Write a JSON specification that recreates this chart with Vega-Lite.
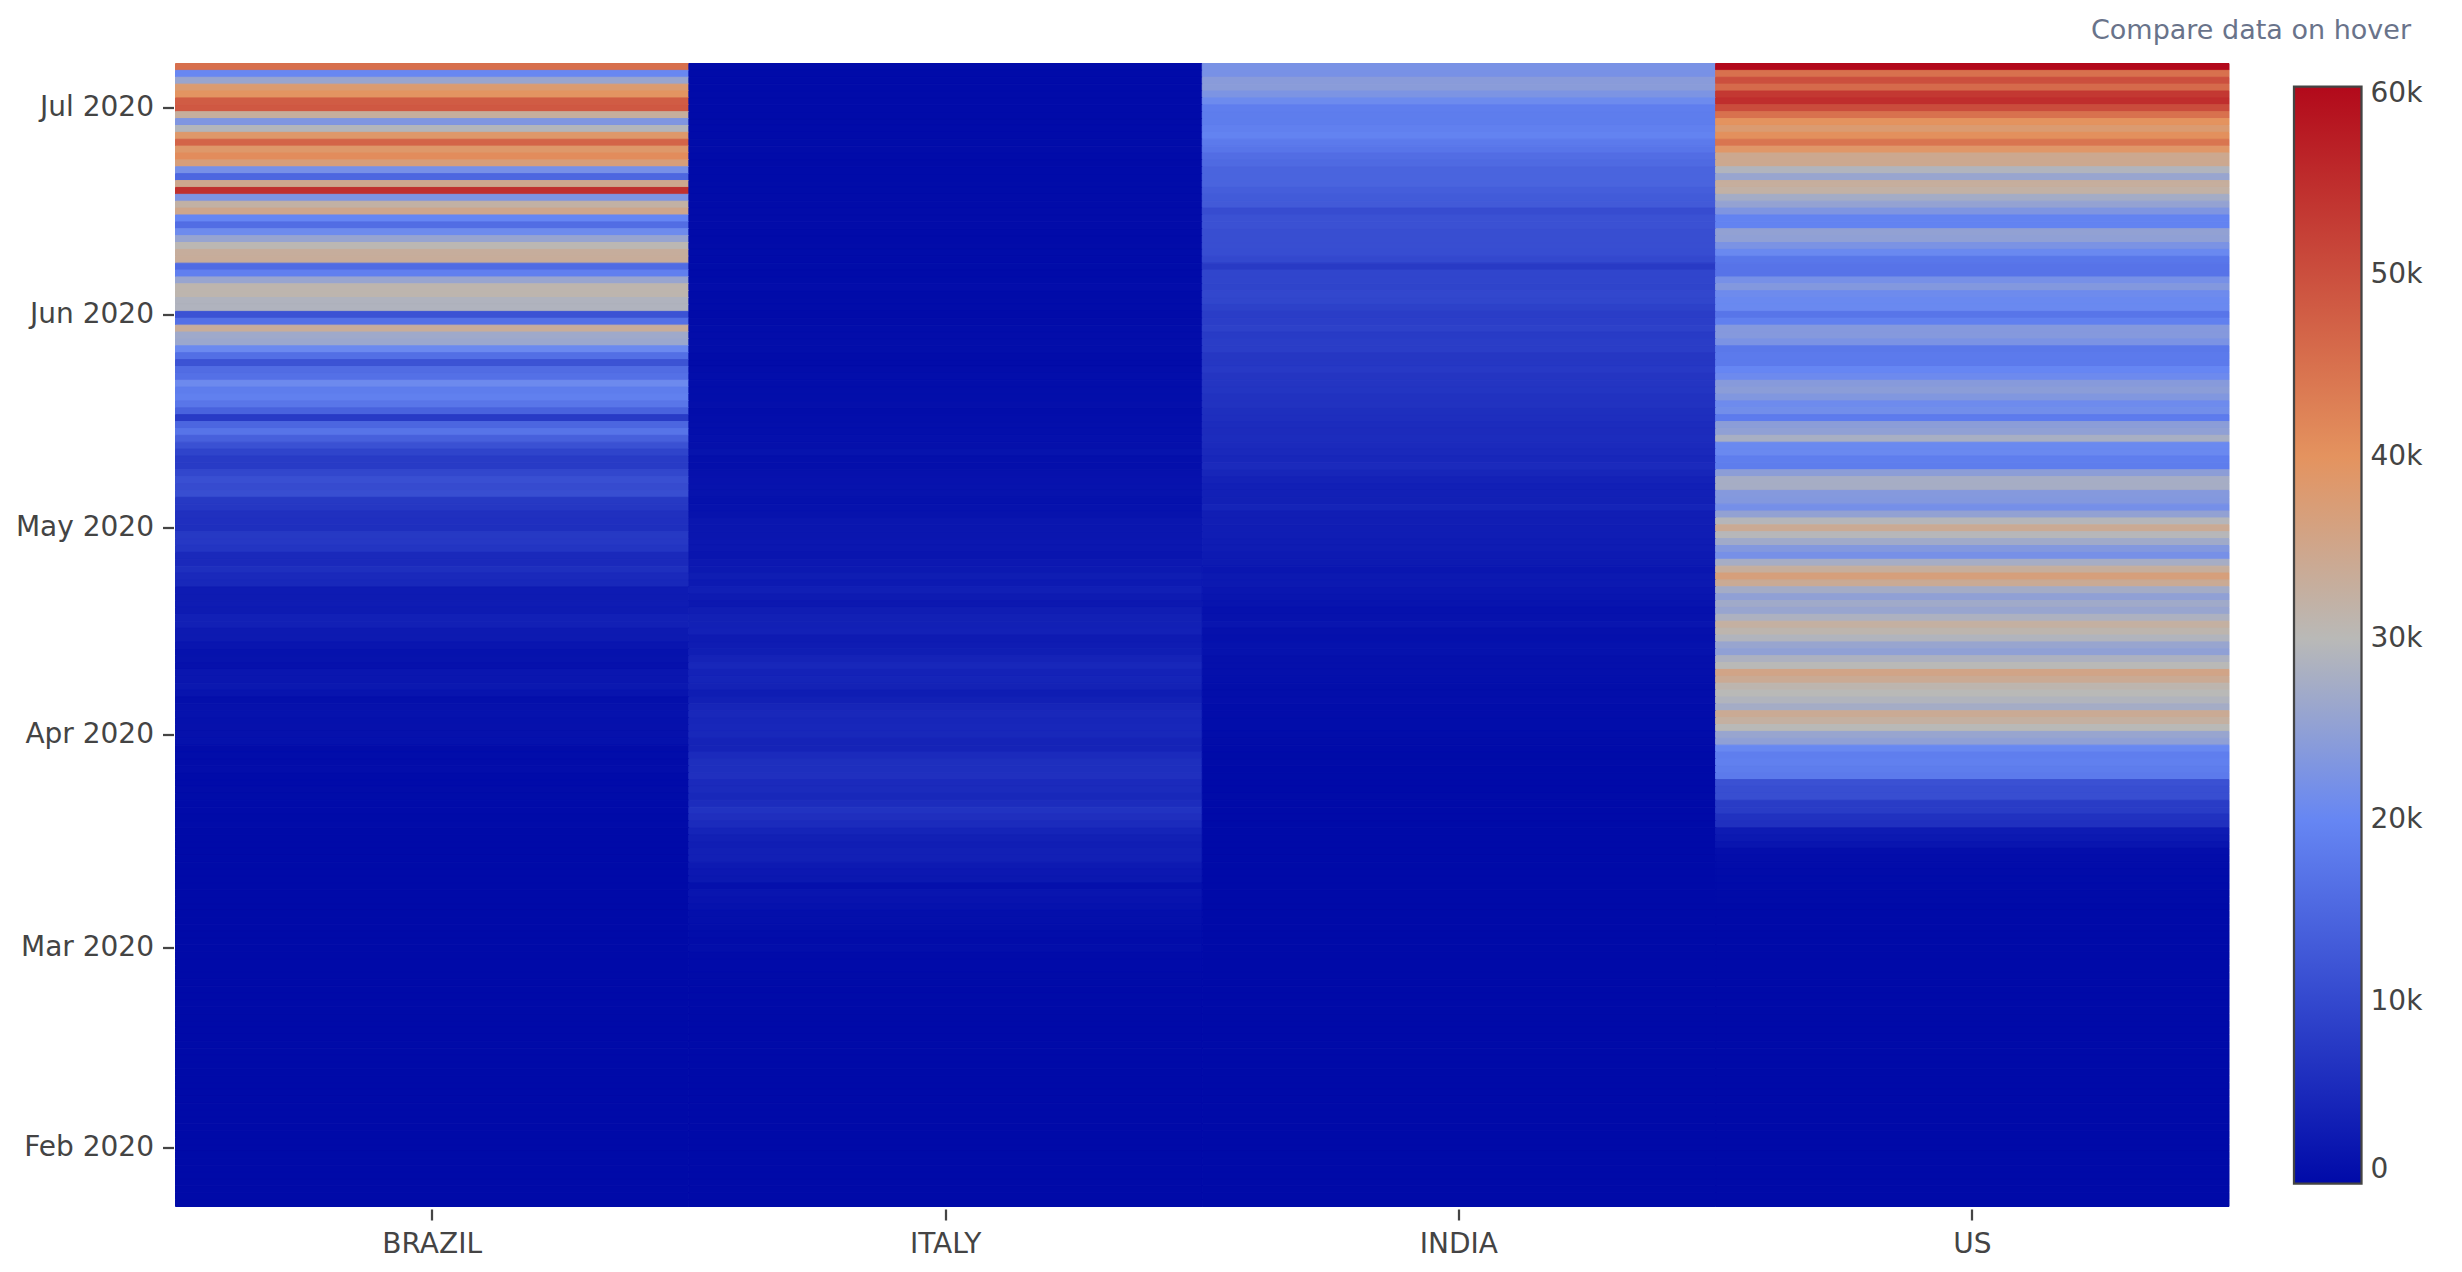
{"$schema":"https://vega.github.io/schema/vega-lite/v6.json","width":2053.5,"height":1143,"autosize":{"type":"none"},"padding":{"left":175.5,"top":63.5,"right":233,"bottom":65.5},"background":"#ffffff","view":{"stroke":null},
"title":{"text":"Compare data on hover","anchor":"end","frame":"group","dx":182,"offset":18,"fontSize":27,"fontWeight":"normal","font":"DejaVu Sans","color":"#69738a"},
"data":{"values":[
{"date":"2020-07-07","country":"BRAZIL","cases":45300},{"date":"2020-07-07","country":"ITALY","cases":193},{"date":"2020-07-07","country":"INDIA","cases":22300},{"date":"2020-07-07","country":"US","cases":60400},
{"date":"2020-07-06","country":"BRAZIL","cases":20200},{"date":"2020-07-06","country":"ITALY","cases":208},{"date":"2020-07-06","country":"INDIA","cases":22200},{"date":"2020-07-06","country":"US","cases":45000},
{"date":"2020-07-05","country":"BRAZIL","cases":26100},{"date":"2020-07-05","country":"ITALY","cases":192},{"date":"2020-07-05","country":"INDIA","cases":24200},{"date":"2020-07-05","country":"US","cases":50000},
{"date":"2020-07-04","country":"BRAZIL","cases":37900},{"date":"2020-07-04","country":"ITALY","cases":235},{"date":"2020-07-04","country":"INDIA","cases":24300},{"date":"2020-07-04","country":"US","cases":46000},
{"date":"2020-07-03","country":"BRAZIL","cases":39800},{"date":"2020-07-03","country":"ITALY","cases":223},{"date":"2020-07-03","country":"INDIA","cases":22700},{"date":"2020-07-03","country":"US","cases":53500},
{"date":"2020-07-02","country":"BRAZIL","cases":48100},{"date":"2020-07-02","country":"ITALY","cases":201},{"date":"2020-07-02","country":"INDIA","cases":20900},{"date":"2020-07-02","country":"US","cases":55000},
{"date":"2020-07-01","country":"BRAZIL","cases":48700},{"date":"2020-07-01","country":"ITALY","cases":182},{"date":"2020-07-01","country":"INDIA","cases":18700},{"date":"2020-07-01","country":"US","cases":50500},
{"date":"2020-06-30","country":"BRAZIL","cases":33000},{"date":"2020-06-30","country":"ITALY","cases":142},{"date":"2020-06-30","country":"INDIA","cases":18500},{"date":"2020-06-30","country":"US","cases":45000},
{"date":"2020-06-29","country":"BRAZIL","cases":23000},{"date":"2020-06-29","country":"ITALY","cases":126},{"date":"2020-06-29","country":"INDIA","cases":18500},{"date":"2020-06-29","country":"US","cases":40000},
{"date":"2020-06-28","country":"BRAZIL","cases":29300},{"date":"2020-06-28","country":"ITALY","cases":174},{"date":"2020-06-28","country":"INDIA","cases":19000},{"date":"2020-06-28","country":"US","cases":38000},
{"date":"2020-06-27","country":"BRAZIL","cases":38700},{"date":"2020-06-27","country":"ITALY","cases":175},{"date":"2020-06-27","country":"INDIA","cases":19500},{"date":"2020-06-27","country":"US","cases":40500},
{"date":"2020-06-26","country":"BRAZIL","cases":46900},{"date":"2020-06-26","country":"ITALY","cases":259},{"date":"2020-06-26","country":"INDIA","cases":18000},{"date":"2020-06-26","country":"US","cases":44500},
{"date":"2020-06-25","country":"BRAZIL","cases":38700},{"date":"2020-06-25","country":"ITALY","cases":296},{"date":"2020-06-25","country":"INDIA","cases":17300},{"date":"2020-06-25","country":"US","cases":39000},
{"date":"2020-06-24","country":"BRAZIL","cases":41000},{"date":"2020-06-24","country":"ITALY","cases":190},{"date":"2020-06-24","country":"INDIA","cases":16000},{"date":"2020-06-24","country":"US","cases":34500},
{"date":"2020-06-23","country":"BRAZIL","cases":37000},{"date":"2020-06-23","country":"ITALY","cases":122},{"date":"2020-06-23","country":"INDIA","cases":15500},{"date":"2020-06-23","country":"US","cases":34500},
{"date":"2020-06-22","country":"BRAZIL","cases":22000},{"date":"2020-06-22","country":"ITALY","cases":224},{"date":"2020-06-22","country":"INDIA","cases":14500},{"date":"2020-06-22","country":"US","cases":29000},
{"date":"2020-06-21","country":"BRAZIL","cases":15000},{"date":"2020-06-21","country":"ITALY","cases":218},{"date":"2020-06-21","country":"INDIA","cases":14500},{"date":"2020-06-21","country":"US","cases":26000},
{"date":"2020-06-20","country":"BRAZIL","cases":34700},{"date":"2020-06-20","country":"ITALY","cases":262},{"date":"2020-06-20","country":"INDIA","cases":14500},{"date":"2020-06-20","country":"US","cases":33000},
{"date":"2020-06-19","country":"BRAZIL","cases":54700},{"date":"2020-06-19","country":"ITALY","cases":251},{"date":"2020-06-19","country":"INDIA","cases":13500},{"date":"2020-06-19","country":"US","cases":32000},
{"date":"2020-06-18","country":"BRAZIL","cases":22800},{"date":"2020-06-18","country":"ITALY","cases":333},{"date":"2020-06-18","country":"INDIA","cases":13000},{"date":"2020-06-18","country":"US","cases":27500},
{"date":"2020-06-17","country":"BRAZIL","cases":32200},{"date":"2020-06-17","country":"ITALY","cases":210},{"date":"2020-06-17","country":"INDIA","cases":12900},{"date":"2020-06-17","country":"US","cases":25500},
{"date":"2020-06-16","country":"BRAZIL","cases":34900},{"date":"2020-06-16","country":"ITALY","cases":303},{"date":"2020-06-16","country":"INDIA","cases":10700},{"date":"2020-06-16","country":"US","cases":23000},
{"date":"2020-06-15","country":"BRAZIL","cases":20000},{"date":"2020-06-15","country":"ITALY","cases":338},{"date":"2020-06-15","country":"INDIA","cases":11500},{"date":"2020-06-15","country":"US","cases":19500},
{"date":"2020-06-14","country":"BRAZIL","cases":16000},{"date":"2020-06-14","country":"ITALY","cases":346},{"date":"2020-06-14","country":"INDIA","cases":11500},{"date":"2020-06-14","country":"US","cases":19500},
{"date":"2020-06-13","country":"BRAZIL","cases":21000},{"date":"2020-06-13","country":"ITALY","cases":163},{"date":"2020-06-13","country":"INDIA","cases":11000},{"date":"2020-06-13","country":"US","cases":25300},
{"date":"2020-06-12","country":"BRAZIL","cases":25900},{"date":"2020-06-12","country":"ITALY","cases":202},{"date":"2020-06-12","country":"INDIA","cases":11000},{"date":"2020-06-12","country":"US","cases":25000},
{"date":"2020-06-11","country":"BRAZIL","cases":30400},{"date":"2020-06-11","country":"ITALY","cases":379},{"date":"2020-06-11","country":"INDIA","cases":10900},{"date":"2020-06-11","country":"US","cases":22500},
{"date":"2020-06-10","country":"BRAZIL","cases":33100},{"date":"2020-06-10","country":"ITALY","cases":283},{"date":"2020-06-10","country":"INDIA","cases":10800},{"date":"2020-06-10","country":"US","cases":20500},
{"date":"2020-06-09","country":"BRAZIL","cases":33300},{"date":"2020-06-09","country":"ITALY","cases":202},{"date":"2020-06-09","country":"INDIA","cases":10000},{"date":"2020-06-09","country":"US","cases":17500},
{"date":"2020-06-08","country":"BRAZIL","cases":15600},{"date":"2020-06-08","country":"ITALY","cases":280},{"date":"2020-06-08","country":"INDIA","cases":7800},{"date":"2020-06-08","country":"US","cases":17000},
{"date":"2020-06-07","country":"BRAZIL","cases":18900},{"date":"2020-06-07","country":"ITALY","cases":197},{"date":"2020-06-07","country":"INDIA","cases":9500},{"date":"2020-06-07","country":"US","cases":17000},
{"date":"2020-06-06","country":"BRAZIL","cases":26000},{"date":"2020-06-06","country":"ITALY","cases":270},{"date":"2020-06-06","country":"INDIA","cases":9500},{"date":"2020-06-06","country":"US","cases":22000},
{"date":"2020-06-05","country":"BRAZIL","cases":31000},{"date":"2020-06-05","country":"ITALY","cases":518},{"date":"2020-06-05","country":"INDIA","cases":9300},{"date":"2020-06-05","country":"US","cases":23500},
{"date":"2020-06-04","country":"BRAZIL","cases":31000},{"date":"2020-06-04","country":"ITALY","cases":177},{"date":"2020-06-04","country":"INDIA","cases":9900},{"date":"2020-06-04","country":"US","cases":21000},
{"date":"2020-06-03","country":"BRAZIL","cases":28900},{"date":"2020-06-03","country":"ITALY","cases":321},{"date":"2020-06-03","country":"INDIA","cases":9600},{"date":"2020-06-03","country":"US","cases":20500},
{"date":"2020-06-02","country":"BRAZIL","cases":28900},{"date":"2020-06-02","country":"ITALY","cases":318},{"date":"2020-06-02","country":"INDIA","cases":8800},{"date":"2020-06-02","country":"US","cases":20500},
{"date":"2020-06-01","country":"BRAZIL","cases":11600},{"date":"2020-06-01","country":"ITALY","cases":178},{"date":"2020-06-01","country":"INDIA","cases":8300},{"date":"2020-06-01","country":"US","cases":17200},
{"date":"2020-05-31","country":"BRAZIL","cases":16400},{"date":"2020-05-31","country":"ITALY","cases":355},{"date":"2020-05-31","country":"INDIA","cases":8400},{"date":"2020-05-31","country":"US","cases":19000},
{"date":"2020-05-30","country":"BRAZIL","cases":33300},{"date":"2020-05-30","country":"ITALY","cases":416},{"date":"2020-05-30","country":"INDIA","cases":8800},{"date":"2020-05-30","country":"US","cases":23700},
{"date":"2020-05-29","country":"BRAZIL","cases":26900},{"date":"2020-05-29","country":"ITALY","cases":516},{"date":"2020-05-29","country":"INDIA","cases":7900},{"date":"2020-05-29","country":"US","cases":23700},
{"date":"2020-05-28","country":"BRAZIL","cases":26400},{"date":"2020-05-28","country":"ITALY","cases":593},{"date":"2020-05-28","country":"INDIA","cases":8200},{"date":"2020-05-28","country":"US","cases":22500},
{"date":"2020-05-27","country":"BRAZIL","cases":20600},{"date":"2020-05-27","country":"ITALY","cases":584},{"date":"2020-05-27","country":"INDIA","cases":8300},{"date":"2020-05-27","country":"US","cases":17700},
{"date":"2020-05-26","country":"BRAZIL","cases":16300},{"date":"2020-05-26","country":"ITALY","cases":397},{"date":"2020-05-26","country":"INDIA","cases":7200},{"date":"2020-05-26","country":"US","cases":18000},
{"date":"2020-05-25","country":"BRAZIL","cases":11700},{"date":"2020-05-25","country":"ITALY","cases":300},{"date":"2020-05-25","country":"INDIA","cases":7300},{"date":"2020-05-25","country":"US","cases":18000},
{"date":"2020-05-24","country":"BRAZIL","cases":15800},{"date":"2020-05-24","country":"ITALY","cases":531},{"date":"2020-05-24","country":"INDIA","cases":7600},{"date":"2020-05-24","country":"US","cases":20000},
{"date":"2020-05-23","country":"BRAZIL","cases":16500},{"date":"2020-05-23","country":"ITALY","cases":669},{"date":"2020-05-23","country":"INDIA","cases":7000},{"date":"2020-05-23","country":"US","cases":20800},
{"date":"2020-05-22","country":"BRAZIL","cases":20800},{"date":"2020-05-22","country":"ITALY","cases":652},{"date":"2020-05-22","country":"INDIA","cases":7000},{"date":"2020-05-22","country":"US","cases":24000},
{"date":"2020-05-21","country":"BRAZIL","cases":18500},{"date":"2020-05-21","country":"ITALY","cases":642},{"date":"2020-05-21","country":"INDIA","cases":6900},{"date":"2020-05-21","country":"US","cases":24500},
{"date":"2020-05-20","country":"BRAZIL","cases":19000},{"date":"2020-05-20","country":"ITALY","cases":665},{"date":"2020-05-20","country":"INDIA","cases":6500},{"date":"2020-05-20","country":"US","cases":23300},
{"date":"2020-05-19","country":"BRAZIL","cases":17400},{"date":"2020-05-19","country":"ITALY","cases":813},{"date":"2020-05-19","country":"INDIA","cases":6400},{"date":"2020-05-19","country":"US","cases":21000},
{"date":"2020-05-18","country":"BRAZIL","cases":14300},{"date":"2020-05-18","country":"ITALY","cases":451},{"date":"2020-05-18","country":"INDIA","cases":5900},{"date":"2020-05-18","country":"US","cases":21500},
{"date":"2020-05-17","country":"BRAZIL","cases":7900},{"date":"2020-05-17","country":"ITALY","cases":675},{"date":"2020-05-17","country":"INDIA","cases":5800},{"date":"2020-05-17","country":"US","cases":18300},
{"date":"2020-05-16","country":"BRAZIL","cases":14900},{"date":"2020-05-16","country":"ITALY","cases":875},{"date":"2020-05-16","country":"INDIA","cases":5500},{"date":"2020-05-16","country":"US","cases":24500},
{"date":"2020-05-15","country":"BRAZIL","cases":17100},{"date":"2020-05-15","country":"ITALY","cases":789},{"date":"2020-05-15","country":"INDIA","cases":5400},{"date":"2020-05-15","country":"US","cases":25000},
{"date":"2020-05-14","country":"BRAZIL","cases":13900},{"date":"2020-05-14","country":"ITALY","cases":992},{"date":"2020-05-14","country":"INDIA","cases":5500},{"date":"2020-05-14","country":"US","cases":28000},
{"date":"2020-05-13","country":"BRAZIL","cases":11400},{"date":"2020-05-13","country":"ITALY","cases":888},{"date":"2020-05-13","country":"INDIA","cases":5200},{"date":"2020-05-13","country":"US","cases":20500},
{"date":"2020-05-12","country":"BRAZIL","cases":9300},{"date":"2020-05-12","country":"ITALY","cases":1402},{"date":"2020-05-12","country":"INDIA","cases":5000},{"date":"2020-05-12","country":"US","cases":20500},
{"date":"2020-05-11","country":"BRAZIL","cases":7900},{"date":"2020-05-11","country":"ITALY","cases":744},{"date":"2020-05-11","country":"INDIA","cases":4700},{"date":"2020-05-11","country":"US","cases":18700},
{"date":"2020-05-10","country":"BRAZIL","cases":7900},{"date":"2020-05-10","country":"ITALY","cases":802},{"date":"2020-05-10","country":"INDIA","cases":5200},{"date":"2020-05-10","country":"US","cases":18500},
{"date":"2020-05-09","country":"BRAZIL","cases":9900},{"date":"2020-05-09","country":"ITALY","cases":1083},{"date":"2020-05-09","country":"INDIA","cases":4500},{"date":"2020-05-09","country":"US","cases":24600},
{"date":"2020-05-08","country":"BRAZIL","cases":11100},{"date":"2020-05-08","country":"ITALY","cases":1327},{"date":"2020-05-08","country":"INDIA","cases":3900},{"date":"2020-05-08","country":"US","cases":27700},
{"date":"2020-05-07","country":"BRAZIL","cases":10500},{"date":"2020-05-07","country":"ITALY","cases":1401},{"date":"2020-05-07","country":"INDIA","cases":3600},{"date":"2020-05-07","country":"US","cases":27700},
{"date":"2020-05-06","country":"BRAZIL","cases":11000},{"date":"2020-05-06","country":"ITALY","cases":1444},{"date":"2020-05-06","country":"INDIA","cases":3600},{"date":"2020-05-06","country":"US","cases":23700},
{"date":"2020-05-05","country":"BRAZIL","cases":7500},{"date":"2020-05-05","country":"ITALY","cases":1075},{"date":"2020-05-05","country":"INDIA","cases":3500},{"date":"2020-05-05","country":"US","cases":23500},
{"date":"2020-05-04","country":"BRAZIL","cases":7300},{"date":"2020-05-04","country":"ITALY","cases":1221},{"date":"2020-05-04","country":"INDIA","cases":4200},{"date":"2020-05-04","country":"US","cases":21800},
{"date":"2020-05-03","country":"BRAZIL","cases":6200},{"date":"2020-05-03","country":"ITALY","cases":1389},{"date":"2020-05-03","country":"INDIA","cases":3300},{"date":"2020-05-03","country":"US","cases":25300},
{"date":"2020-05-02","country":"BRAZIL","cases":6000},{"date":"2020-05-02","country":"ITALY","cases":1900},{"date":"2020-05-02","country":"INDIA","cases":3300},{"date":"2020-05-02","country":"US","cases":29500},
{"date":"2020-05-01","country":"BRAZIL","cases":5900},{"date":"2020-05-01","country":"ITALY","cases":1965},{"date":"2020-05-01","country":"INDIA","cases":3100},{"date":"2020-05-01","country":"US","cases":34000},
{"date":"2020-04-30","country":"BRAZIL","cases":7500},{"date":"2020-04-30","country":"ITALY","cases":1872},{"date":"2020-04-30","country":"INDIA","cases":3100},{"date":"2020-04-30","country":"US","cases":29700},
{"date":"2020-04-29","country":"BRAZIL","cases":7400},{"date":"2020-04-29","country":"ITALY","cases":2086},{"date":"2020-04-29","country":"INDIA","cases":2900},{"date":"2020-04-29","country":"US","cases":27000},
{"date":"2020-04-28","country":"BRAZIL","cases":6900},{"date":"2020-04-28","country":"ITALY","cases":2091},{"date":"2020-04-28","country":"INDIA","cases":2900},{"date":"2020-04-28","country":"US","cases":23500},
{"date":"2020-04-27","country":"BRAZIL","cases":5000},{"date":"2020-04-27","country":"ITALY","cases":1739},{"date":"2020-04-27","country":"INDIA","cases":2600},{"date":"2020-04-27","country":"US","cases":22000},
{"date":"2020-04-26","country":"BRAZIL","cases":5000},{"date":"2020-04-26","country":"ITALY","cases":2324},{"date":"2020-04-26","country":"INDIA","cases":2500},{"date":"2020-04-26","country":"US","cases":27700},
{"date":"2020-04-25","country":"BRAZIL","cases":5900},{"date":"2020-04-25","country":"ITALY","cases":2357},{"date":"2020-04-25","country":"INDIA","cases":2000},{"date":"2020-04-25","country":"US","cases":33000},
{"date":"2020-04-24","country":"BRAZIL","cases":5000},{"date":"2020-04-24","country":"ITALY","cases":3021},{"date":"2020-04-24","country":"INDIA","cases":2400},{"date":"2020-04-24","country":"US","cases":36800},
{"date":"2020-04-23","country":"BRAZIL","cases":4800},{"date":"2020-04-23","country":"ITALY","cases":2646},{"date":"2020-04-23","country":"INDIA","cases":2400},{"date":"2020-04-23","country":"US","cases":34000},
{"date":"2020-04-22","country":"BRAZIL","cases":2800},{"date":"2020-04-22","country":"ITALY","cases":3370},{"date":"2020-04-22","country":"INDIA","cases":2000},{"date":"2020-04-22","country":"US","cases":27500},
{"date":"2020-04-21","country":"BRAZIL","cases":2700},{"date":"2020-04-21","country":"ITALY","cases":2729},{"date":"2020-04-21","country":"INDIA","cases":1800},{"date":"2020-04-21","country":"US","cases":25000},
{"date":"2020-04-20","country":"BRAZIL","cases":2900},{"date":"2020-04-20","country":"ITALY","cases":2256},{"date":"2020-04-20","country":"INDIA","cases":1600},{"date":"2020-04-20","country":"US","cases":27000},
{"date":"2020-04-19","country":"BRAZIL","cases":2700},{"date":"2020-04-19","country":"ITALY","cases":3047},{"date":"2020-04-19","country":"INDIA","cases":1200},{"date":"2020-04-19","country":"US","cases":26000},
{"date":"2020-04-18","country":"BRAZIL","cases":3600},{"date":"2020-04-18","country":"ITALY","cases":3491},{"date":"2020-04-18","country":"INDIA","cases":1300},{"date":"2020-04-18","country":"US","cases":28500},
{"date":"2020-04-17","country":"BRAZIL","cases":3500},{"date":"2020-04-17","country":"ITALY","cases":3493},{"date":"2020-04-17","country":"INDIA","cases":1800},{"date":"2020-04-17","country":"US","cases":32500},
{"date":"2020-04-16","country":"BRAZIL","cases":2500},{"date":"2020-04-16","country":"ITALY","cases":3786},{"date":"2020-04-16","country":"INDIA","cases":1100},{"date":"2020-04-16","country":"US","cases":31000},
{"date":"2020-04-15","country":"BRAZIL","cases":2500},{"date":"2020-04-15","country":"ITALY","cases":2667},{"date":"2020-04-15","country":"INDIA","cases":1000},{"date":"2020-04-15","country":"US","cases":29000},
{"date":"2020-04-14","country":"BRAZIL","cases":1832},{"date":"2020-04-14","country":"ITALY","cases":2972},{"date":"2020-04-14","country":"INDIA","cases":1243},{"date":"2020-04-14","country":"US","cases":26000},
{"date":"2020-04-13","country":"BRAZIL","cases":1261},{"date":"2020-04-13","country":"ITALY","cases":3153},{"date":"2020-04-13","country":"INDIA","cases":1248},{"date":"2020-04-13","country":"US","cases":25000},
{"date":"2020-04-12","country":"BRAZIL","cases":1442},{"date":"2020-04-12","country":"ITALY","cases":4092},{"date":"2020-04-12","country":"INDIA","cases":909},{"date":"2020-04-12","country":"US","cases":28500},
{"date":"2020-04-11","country":"BRAZIL","cases":1089},{"date":"2020-04-11","country":"ITALY","cases":4694},{"date":"2020-04-11","country":"INDIA","cases":918},{"date":"2020-04-11","country":"US","cases":30000},
{"date":"2020-04-10","country":"BRAZIL","cases":1900},{"date":"2020-04-10","country":"ITALY","cases":3951},{"date":"2020-04-10","country":"INDIA","cases":896},{"date":"2020-04-10","country":"US","cases":35500},
{"date":"2020-04-09","country":"BRAZIL","cases":1930},{"date":"2020-04-09","country":"ITALY","cases":4204},{"date":"2020-04-09","country":"INDIA","cases":809},{"date":"2020-04-09","country":"US","cases":34000},
{"date":"2020-04-08","country":"BRAZIL","cases":2210},{"date":"2020-04-08","country":"ITALY","cases":3836},{"date":"2020-04-08","country":"INDIA","cases":565},{"date":"2020-04-08","country":"US","cases":31000},
{"date":"2020-04-07","country":"BRAZIL","cases":1660},{"date":"2020-04-07","country":"ITALY","cases":3039},{"date":"2020-04-07","country":"INDIA","cases":573},{"date":"2020-04-07","country":"US","cases":30000},
{"date":"2020-04-06","country":"BRAZIL","cases":852},{"date":"2020-04-06","country":"ITALY","cases":3599},{"date":"2020-04-06","country":"INDIA","cases":703},{"date":"2020-04-06","country":"US","cases":29000},
{"date":"2020-04-05","country":"BRAZIL","cases":1146},{"date":"2020-04-05","country":"ITALY","cases":4316},{"date":"2020-04-05","country":"INDIA","cases":472},{"date":"2020-04-05","country":"US","cases":27500},
{"date":"2020-04-04","country":"BRAZIL","cases":1222},{"date":"2020-04-04","country":"ITALY","cases":4805},{"date":"2020-04-04","country":"INDIA","cases":515},{"date":"2020-04-04","country":"US","cases":34000},
{"date":"2020-04-03","country":"BRAZIL","cases":1074},{"date":"2020-04-03","country":"ITALY","cases":4585},{"date":"2020-04-03","country":"INDIA","cases":478},{"date":"2020-04-03","country":"US","cases":32500},
{"date":"2020-04-02","country":"BRAZIL","cases":1119},{"date":"2020-04-02","country":"ITALY","cases":4668},{"date":"2020-04-02","country":"INDIA","cases":437},{"date":"2020-04-02","country":"US","cases":30000},
{"date":"2020-04-01","country":"BRAZIL","cases":1138},{"date":"2020-04-01","country":"ITALY","cases":4782},{"date":"2020-04-01","country":"INDIA","cases":424},{"date":"2020-04-01","country":"US","cases":26000},
{"date":"2020-03-31","country":"BRAZIL","cases":1050},{"date":"2020-03-31","country":"ITALY","cases":4053},{"date":"2020-03-31","country":"INDIA","cases":309},{"date":"2020-03-31","country":"US","cases":25000},
{"date":"2020-03-30","country":"BRAZIL","cases":323},{"date":"2020-03-30","country":"ITALY","cases":4050},{"date":"2020-03-30","country":"INDIA","cases":227},{"date":"2020-03-30","country":"US","cases":20300},
{"date":"2020-03-29","country":"BRAZIL","cases":487},{"date":"2020-03-29","country":"ITALY","cases":5217},{"date":"2020-03-29","country":"INDIA","cases":92},{"date":"2020-03-29","country":"US","cases":18700},
{"date":"2020-03-28","country":"BRAZIL","cases":352},{"date":"2020-03-28","country":"ITALY","cases":5974},{"date":"2020-03-28","country":"INDIA","cases":106},{"date":"2020-03-28","country":"US","cases":19000},
{"date":"2020-03-27","country":"BRAZIL","cases":502},{"date":"2020-03-27","country":"ITALY","cases":5909},{"date":"2020-03-27","country":"INDIA","cases":75},{"date":"2020-03-27","country":"US","cases":18500},
{"date":"2020-03-26","country":"BRAZIL","cases":232},{"date":"2020-03-26","country":"ITALY","cases":6203},{"date":"2020-03-26","country":"INDIA","cases":88},{"date":"2020-03-26","country":"US","cases":18000},
{"date":"2020-03-25","country":"BRAZIL","cases":207},{"date":"2020-03-25","country":"ITALY","cases":5210},{"date":"2020-03-25","country":"INDIA","cases":75},{"date":"2020-03-25","country":"US","cases":11500},
{"date":"2020-03-24","country":"BRAZIL","cases":346},{"date":"2020-03-24","country":"ITALY","cases":5249},{"date":"2020-03-24","country":"INDIA","cases":64},{"date":"2020-03-24","country":"US","cases":11000},
{"date":"2020-03-23","country":"BRAZIL","cases":252},{"date":"2020-03-23","country":"ITALY","cases":4789},{"date":"2020-03-23","country":"INDIA","cases":99},{"date":"2020-03-23","country":"US","cases":11000},
{"date":"2020-03-22","country":"BRAZIL","cases":224},{"date":"2020-03-22","country":"ITALY","cases":5560},{"date":"2020-03-22","country":"INDIA","cases":64},{"date":"2020-03-22","country":"US","cases":8000},
{"date":"2020-03-21","country":"BRAZIL","cases":235},{"date":"2020-03-21","country":"ITALY","cases":6557},{"date":"2020-03-21","country":"INDIA","cases":77},{"date":"2020-03-21","country":"US","cases":8000},
{"date":"2020-03-20","country":"BRAZIL","cases":86},{"date":"2020-03-20","country":"ITALY","cases":5986},{"date":"2020-03-20","country":"INDIA","cases":50},{"date":"2020-03-20","country":"US","cases":6500},
{"date":"2020-03-19","country":"BRAZIL","cases":150},{"date":"2020-03-19","country":"ITALY","cases":5322},{"date":"2020-03-19","country":"INDIA","cases":20},{"date":"2020-03-19","country":"US","cases":6200},
{"date":"2020-03-18","country":"BRAZIL","cases":57},{"date":"2020-03-18","country":"ITALY","cases":4207},{"date":"2020-03-18","country":"INDIA","cases":28},{"date":"2020-03-18","country":"US","cases":2800},
{"date":"2020-03-17","country":"BRAZIL","cases":37},{"date":"2020-03-17","country":"ITALY","cases":3526},{"date":"2020-03-17","country":"INDIA","cases":14},{"date":"2020-03-17","country":"US","cases":2400},
{"date":"2020-03-16","country":"BRAZIL","cases":79},{"date":"2020-03-16","country":"ITALY","cases":3233},{"date":"2020-03-16","country":"INDIA","cases":7},{"date":"2020-03-16","country":"US","cases":1800},
{"date":"2020-03-15","country":"BRAZIL","cases":0},{"date":"2020-03-15","country":"ITALY","cases":3590},{"date":"2020-03-15","country":"INDIA","cases":10},{"date":"2020-03-15","country":"US","cases":700},
{"date":"2020-03-14","country":"BRAZIL","cases":21},{"date":"2020-03-14","country":"ITALY","cases":3497},{"date":"2020-03-14","country":"INDIA","cases":20},{"date":"2020-03-14","country":"US","cases":500},
{"date":"2020-03-13","country":"BRAZIL","cases":20},{"date":"2020-03-13","country":"ITALY","cases":2547},{"date":"2020-03-13","country":"INDIA","cases":1},{"date":"2020-03-13","country":"US","cases":400},
{"date":"2020-03-12","country":"BRAZIL","cases":10},{"date":"2020-03-12","country":"ITALY","cases":2313},{"date":"2020-03-12","country":"INDIA","cases":11},{"date":"2020-03-12","country":"US","cases":300},
{"date":"2020-03-11","country":"BRAZIL","cases":9},{"date":"2020-03-11","country":"ITALY","cases":2249},{"date":"2020-03-11","country":"INDIA","cases":6},{"date":"2020-03-11","country":"US","cases":270},
{"date":"2020-03-10","country":"BRAZIL","cases":6},{"date":"2020-03-10","country":"ITALY","cases":977},{"date":"2020-03-10","country":"INDIA","cases":3},{"date":"2020-03-10","country":"US","cases":200},
{"date":"2020-03-09","country":"BRAZIL","cases":5},{"date":"2020-03-09","country":"ITALY","cases":1797},{"date":"2020-03-09","country":"INDIA","cases":3},{"date":"2020-03-09","country":"US","cases":120},
{"date":"2020-03-08","country":"BRAZIL","cases":5},{"date":"2020-03-08","country":"ITALY","cases":1492},{"date":"2020-03-08","country":"INDIA","cases":5},{"date":"2020-03-08","country":"US","cases":100},
{"date":"2020-03-07","country":"BRAZIL","cases":6},{"date":"2020-03-07","country":"ITALY","cases":1247},{"date":"2020-03-07","country":"INDIA","cases":3},{"date":"2020-03-07","country":"US","cases":60},
{"date":"2020-03-06","country":"BRAZIL","cases":2},{"date":"2020-03-06","country":"ITALY","cases":778},{"date":"2020-03-06","country":"INDIA","cases":1},{"date":"2020-03-06","country":"US","cases":50},
{"date":"2020-03-05","country":"BRAZIL","cases":4},{"date":"2020-03-05","country":"ITALY","cases":769},{"date":"2020-03-05","country":"INDIA","cases":2},{"date":"2020-03-05","country":"US","cases":30},
{"date":"2020-03-04","country":"BRAZIL","cases":2},{"date":"2020-03-04","country":"ITALY","cases":587},{"date":"2020-03-04","country":"INDIA","cases":22},{"date":"2020-03-04","country":"US","cases":20},
{"date":"2020-03-03","country":"BRAZIL","cases":0},{"date":"2020-03-03","country":"ITALY","cases":466},{"date":"2020-03-03","country":"INDIA","cases":0},{"date":"2020-03-03","country":"US","cases":20},
{"date":"2020-03-02","country":"BRAZIL","cases":0},{"date":"2020-03-02","country":"ITALY","cases":342},{"date":"2020-03-02","country":"INDIA","cases":2},{"date":"2020-03-02","country":"US","cases":20},
{"date":"2020-03-01","country":"BRAZIL","cases":1},{"date":"2020-03-01","country":"ITALY","cases":566},{"date":"2020-03-01","country":"INDIA","cases":0},{"date":"2020-03-01","country":"US","cases":10},
{"date":"2020-02-29","country":"BRAZIL","cases":0},{"date":"2020-02-29","country":"ITALY","cases":240},{"date":"2020-02-29","country":"INDIA","cases":0},{"date":"2020-02-29","country":"US","cases":8},
{"date":"2020-02-28","country":"BRAZIL","cases":0},{"date":"2020-02-28","country":"ITALY","cases":233},{"date":"2020-02-28","country":"INDIA","cases":0},{"date":"2020-02-28","country":"US","cases":2},
{"date":"2020-02-27","country":"BRAZIL","cases":0},{"date":"2020-02-27","country":"ITALY","cases":202},{"date":"2020-02-27","country":"INDIA","cases":0},{"date":"2020-02-27","country":"US","cases":1},
{"date":"2020-02-26","country":"BRAZIL","cases":1},{"date":"2020-02-26","country":"ITALY","cases":131},{"date":"2020-02-26","country":"INDIA","cases":0},{"date":"2020-02-26","country":"US","cases":0},
{"date":"2020-02-25","country":"BRAZIL","cases":0},{"date":"2020-02-25","country":"ITALY","cases":93},{"date":"2020-02-25","country":"INDIA","cases":0},{"date":"2020-02-25","country":"US","cases":0},
{"date":"2020-02-24","country":"BRAZIL","cases":0},{"date":"2020-02-24","country":"ITALY","cases":74},{"date":"2020-02-24","country":"INDIA","cases":0},{"date":"2020-02-24","country":"US","cases":18},
{"date":"2020-02-23","country":"BRAZIL","cases":0},{"date":"2020-02-23","country":"ITALY","cases":93},{"date":"2020-02-23","country":"INDIA","cases":0},{"date":"2020-02-23","country":"US","cases":0},
{"date":"2020-02-22","country":"BRAZIL","cases":0},{"date":"2020-02-22","country":"ITALY","cases":42},{"date":"2020-02-22","country":"INDIA","cases":0},{"date":"2020-02-22","country":"US","cases":0},
{"date":"2020-02-21","country":"BRAZIL","cases":0},{"date":"2020-02-21","country":"ITALY","cases":17},{"date":"2020-02-21","country":"INDIA","cases":0},{"date":"2020-02-21","country":"US","cases":2},
{"date":"2020-02-20","country":"BRAZIL","cases":0},{"date":"2020-02-20","country":"ITALY","cases":0},{"date":"2020-02-20","country":"INDIA","cases":0},{"date":"2020-02-20","country":"US","cases":0},
{"date":"2020-02-19","country":"BRAZIL","cases":0},{"date":"2020-02-19","country":"ITALY","cases":0},{"date":"2020-02-19","country":"INDIA","cases":0},{"date":"2020-02-19","country":"US","cases":0},
{"date":"2020-02-18","country":"BRAZIL","cases":0},{"date":"2020-02-18","country":"ITALY","cases":0},{"date":"2020-02-18","country":"INDIA","cases":0},{"date":"2020-02-18","country":"US","cases":0},
{"date":"2020-02-17","country":"BRAZIL","cases":0},{"date":"2020-02-17","country":"ITALY","cases":0},{"date":"2020-02-17","country":"INDIA","cases":0},{"date":"2020-02-17","country":"US","cases":0},
{"date":"2020-02-16","country":"BRAZIL","cases":0},{"date":"2020-02-16","country":"ITALY","cases":0},{"date":"2020-02-16","country":"INDIA","cases":0},{"date":"2020-02-16","country":"US","cases":0},
{"date":"2020-02-15","country":"BRAZIL","cases":0},{"date":"2020-02-15","country":"ITALY","cases":0},{"date":"2020-02-15","country":"INDIA","cases":0},{"date":"2020-02-15","country":"US","cases":0},
{"date":"2020-02-14","country":"BRAZIL","cases":0},{"date":"2020-02-14","country":"ITALY","cases":0},{"date":"2020-02-14","country":"INDIA","cases":0},{"date":"2020-02-14","country":"US","cases":0},
{"date":"2020-02-13","country":"BRAZIL","cases":0},{"date":"2020-02-13","country":"ITALY","cases":0},{"date":"2020-02-13","country":"INDIA","cases":0},{"date":"2020-02-13","country":"US","cases":1},
{"date":"2020-02-12","country":"BRAZIL","cases":0},{"date":"2020-02-12","country":"ITALY","cases":0},{"date":"2020-02-12","country":"INDIA","cases":0},{"date":"2020-02-12","country":"US","cases":0},
{"date":"2020-02-11","country":"BRAZIL","cases":0},{"date":"2020-02-11","country":"ITALY","cases":0},{"date":"2020-02-11","country":"INDIA","cases":0},{"date":"2020-02-11","country":"US","cases":1},
{"date":"2020-02-10","country":"BRAZIL","cases":0},{"date":"2020-02-10","country":"ITALY","cases":0},{"date":"2020-02-10","country":"INDIA","cases":0},{"date":"2020-02-10","country":"US","cases":0},
{"date":"2020-02-09","country":"BRAZIL","cases":0},{"date":"2020-02-09","country":"ITALY","cases":0},{"date":"2020-02-09","country":"INDIA","cases":0},{"date":"2020-02-09","country":"US","cases":3},
{"date":"2020-02-08","country":"BRAZIL","cases":0},{"date":"2020-02-08","country":"ITALY","cases":0},{"date":"2020-02-08","country":"INDIA","cases":0},{"date":"2020-02-08","country":"US","cases":0},
{"date":"2020-02-07","country":"BRAZIL","cases":0},{"date":"2020-02-07","country":"ITALY","cases":1},{"date":"2020-02-07","country":"INDIA","cases":0},{"date":"2020-02-07","country":"US","cases":0},
{"date":"2020-02-06","country":"BRAZIL","cases":0},{"date":"2020-02-06","country":"ITALY","cases":0},{"date":"2020-02-06","country":"INDIA","cases":0},{"date":"2020-02-06","country":"US","cases":0},
{"date":"2020-02-05","country":"BRAZIL","cases":0},{"date":"2020-02-05","country":"ITALY","cases":0},{"date":"2020-02-05","country":"INDIA","cases":0},{"date":"2020-02-05","country":"US","cases":0},
{"date":"2020-02-04","country":"BRAZIL","cases":0},{"date":"2020-02-04","country":"ITALY","cases":0},{"date":"2020-02-04","country":"INDIA","cases":1},{"date":"2020-02-04","country":"US","cases":0},
{"date":"2020-02-03","country":"BRAZIL","cases":0},{"date":"2020-02-03","country":"ITALY","cases":0},{"date":"2020-02-03","country":"INDIA","cases":1},{"date":"2020-02-03","country":"US","cases":3},
{"date":"2020-02-02","country":"BRAZIL","cases":0},{"date":"2020-02-02","country":"ITALY","cases":0},{"date":"2020-02-02","country":"INDIA","cases":1},{"date":"2020-02-02","country":"US","cases":0},
{"date":"2020-02-01","country":"BRAZIL","cases":0},{"date":"2020-02-01","country":"ITALY","cases":0},{"date":"2020-02-01","country":"INDIA","cases":0},{"date":"2020-02-01","country":"US","cases":1},
{"date":"2020-01-31","country":"BRAZIL","cases":0},{"date":"2020-01-31","country":"ITALY","cases":2},{"date":"2020-01-31","country":"INDIA","cases":1},{"date":"2020-01-31","country":"US","cases":2},
{"date":"2020-01-30","country":"BRAZIL","cases":0},{"date":"2020-01-30","country":"ITALY","cases":0},{"date":"2020-01-30","country":"INDIA","cases":0},{"date":"2020-01-30","country":"US","cases":0},
{"date":"2020-01-29","country":"BRAZIL","cases":0},{"date":"2020-01-29","country":"ITALY","cases":0},{"date":"2020-01-29","country":"INDIA","cases":0},{"date":"2020-01-29","country":"US","cases":0},
{"date":"2020-01-28","country":"BRAZIL","cases":0},{"date":"2020-01-28","country":"ITALY","cases":0},{"date":"2020-01-28","country":"INDIA","cases":0},{"date":"2020-01-28","country":"US","cases":0},
{"date":"2020-01-27","country":"BRAZIL","cases":0},{"date":"2020-01-27","country":"ITALY","cases":0},{"date":"2020-01-27","country":"INDIA","cases":0},{"date":"2020-01-27","country":"US","cases":0},
{"date":"2020-01-26","country":"BRAZIL","cases":0},{"date":"2020-01-26","country":"ITALY","cases":0},{"date":"2020-01-26","country":"INDIA","cases":0},{"date":"2020-01-26","country":"US","cases":3},
{"date":"2020-01-25","country":"BRAZIL","cases":0},{"date":"2020-01-25","country":"ITALY","cases":0},{"date":"2020-01-25","country":"INDIA","cases":0},{"date":"2020-01-25","country":"US","cases":0},
{"date":"2020-01-24","country":"BRAZIL","cases":0},{"date":"2020-01-24","country":"ITALY","cases":0},{"date":"2020-01-24","country":"INDIA","cases":0},{"date":"2020-01-24","country":"US","cases":1}
]},
"mark":{"type":"rect","strokeWidth":1},
"encoding":{
"x":{"field":"country","type":"nominal","sort":["BRAZIL","ITALY","INDIA","US"],"title":null,"scale":{"padding":0,"round":false},"axis":{"domain":false,"grid":false,"labelAngle":0,"labelFont":"DejaVu Sans","labelFontSize":28,"labelColor":"#444444","labelPadding":10,"tickColor":"#444444","tickWidth":2.25,"tickSize":11,"offset":2.5}},
"y":{"field":"date","type":"ordinal","sort":"descending","title":null,"scale":{"padding":0,"round":false},"axis":{"values":["2020-07-01","2020-06-01","2020-05-01","2020-04-01","2020-03-01","2020-02-01"],"labelExpr":"timeFormat(toDate(datum.value+'T00:00:00'),'%b %Y')","domain":false,"grid":false,"labelFont":"DejaVu Sans","labelFontSize":28,"labelColor":"#444444","labelPadding":9,"tickColor":"#444444","tickWidth":2.25,"tickSize":11,"offset":2}},
"color":{"field":"cases","type":"quantitative","scale":{"domain":[0,20000,30000,40000,60400],"range":["#000aa8","#6686f3","#b9b9b7","#e4935f","#b2091b"],"interpolate":"rgb"},"legend":{"type":"gradient","orient":"none","legendX":2118.5,"legendY":23,"title":null,"direction":"vertical","gradientLength":1097,"gradientThickness":67.5,"gradientStrokeColor":"#444444","gradientStrokeWidth":2.25,"values":[0,10000,20000,30000,40000,50000,60000],"labelExpr":"datum.value==0?'0':(datum.value/1000)+'k'","labelFont":"DejaVu Sans","labelFontSize":28,"labelColor":"#444444","labelOffset":9}},
"stroke":{"field":"cases","type":"quantitative","scale":{"domain":[0,20000,30000,40000,60401],"range":["#000aa8","#6686f3","#b9b9b7","#e4935f","#b2091b"],"interpolate":"rgb"},"legend":null}
}}
